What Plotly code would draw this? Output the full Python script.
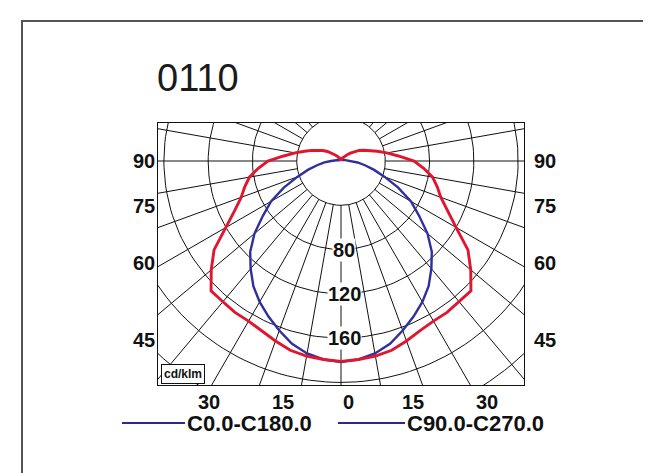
#!/usr/bin/env python3
# -*- coding: utf-8 -*-

"""
Polar luminous intensity diagram (cd/klm) of luminaire 0110,
C0-C180 and C90-C270 planes, drawn on a clipped cartesian frame.
"""

import numpy as np
import plotly.graph_objs as go

# gamma angles (deg from nadir), one half of each plane, symmetric luminaire
gamma = [0, 5, 10, 15, 20, 25, 30, 35, 40, 45, 50, 55, 60, 65, 70, 75, 80,
         85, 90, 95, 100, 105, 110, 115, 120, 125, 130, 135, 140, 145, 150,
         155, 160, 165, 170, 175, 180]

# C0.0-C180.0 (cd/klm)
c0_c180 = [181.6, 180, 176.5, 171, 163, 155, 147, 138, 127, 116, 102, 86,
           73, 57, 42, 31, 22, 15, 9, 6, 4, 3, 3, 2, 2, 2, 2, 2, 2, 2, 2,
           2, 2, 2, 2, 2, 2]

# C90.0-C270.0 (cd/klm)
c90_c270 = [181, 180, 179, 177, 173, 169, 167, 167, 166, 166, 153, 140,
            120, 106, 96, 90, 84, 75, 66, 52, 42, 34, 28, 23, 19, 15, 11,
            8, 6, 5, 4, 3, 2, 1, 1, 0, 0]

ring_values = [40, 80, 120, 160, 200, 240, 280]
ring_labels = [80, 120, 160]
spoke_angles = list(range(0, 360, 10))
side_angles = [90, 75, 60, 45]
bottom_angles = [-30, -15, 0, 15, 30]

plane_names = ['C0.0-C180.0', 'C90.0-C270.0']
title_text = '0110'
unit_text = 'cd/klm'

# page geometry (px, as seen in the window)
FIG_W, FIG_H = 651, 473
BODY = 8  # default body margin of the html page
L, R, T, B = 158, 524, 123, 385
CX, CY = 341, 161
K = 1.107  # px per cd/klm

FONT = 'Liberation Sans, Arial, Helvetica, sans-serif'
BLUE = '#2f2f9e'
RED = '#e0162f'


def px_x(p):
    return (p - L) / (R - L)


def px_y(p):
    return (B - p) / (B - T)


def to_xy(angles_deg, values):
    a = np.radians(np.asarray(angles_deg, dtype=float))
    v = np.asarray(values, dtype=float)
    return v * np.sin(a), -v * np.cos(a)


def full_plane(values):
    # left half (C180/C270) mirrored from right half (C0/C90)
    ang = [-g for g in gamma[::-1]] + gamma[1:]
    val = list(values[::-1]) + list(values[1:])
    return to_xy(ang, val)


def main():
    x_lim = (R - CX) / K
    y_top = (CY - T) / K
    y_bot = (CY - B) / K

    fig = go.Figure()

    # rings
    circ = np.arange(0, 361, 2)
    for r in ring_values:
        x, y = to_xy(circ, [r] * len(circ))
        fig.add_trace(go.Scatter(x=x, y=y, mode='lines', showlegend=False,
                                 hoverinfo='skip',
                                 line=dict(color='#111111', width=1)))

    # spokes from first ring outwards
    sx, sy = [], []
    for a in spoke_angles:
        x, y = to_xy([a, a], [ring_values[0], 330])
        sx += list(x) + [None]
        sy += list(y) + [None]
    fig.add_trace(go.Scatter(x=sx, y=sy, mode='lines', showlegend=False,
                             hoverinfo='skip',
                             line=dict(color='#111111', width=1)))

    bx, by = full_plane(c0_c180)
    fig.add_trace(go.Scatter(x=bx, y=by, mode='lines', name=plane_names[0],
                             showlegend=False,
                             line=dict(color=BLUE, width=2.4)))
    rx, ry = full_plane(c90_c270)
    fig.add_trace(go.Scatter(x=rx, y=ry, mode='lines', name=plane_names[1],
                             showlegend=False,
                             line=dict(color=RED, width=2.9)))

    ann = []
    lab_font = dict(family=FONT, size=20, color='#111111', weight='bold')

    for r in ring_labels:
        ann.append(dict(x=0, y=-r, xref='x', yref='y', text=str(r),
                        showarrow=False, font=lab_font, xshift=3,
                        bgcolor='white', borderpad=0))

    for g in side_angles:
        yy = 0 if g == 90 else -x_lim / np.tan(np.radians(g))
        ys = 0 if g == 90 else 4
        ann.append(dict(x=-x_lim, y=yy, xref='x', yref='y', text=str(g),
                        showarrow=False, font=lab_font, xanchor='right',
                        xshift=-1, yshift=ys))
        ann.append(dict(x=x_lim, y=yy, xref='x', yref='y', text=str(g),
                        showarrow=False, font=lab_font, xanchor='left',
                        xshift=8, yshift=ys))

    # bottom angle labels sit on the spokes, below the frame
    label_y = 402
    depth = (label_y - CY) / K
    for g in bottom_angles:
        ann.append(dict(x=depth * np.tan(np.radians(g)), y=px_y(label_y),
                        xref='x', yref='paper', text=str(abs(g)),
                        showarrow=False, font=lab_font, xshift=7,
                        xanchor='center', yanchor='middle'))

    ann.append(dict(x=px_x(161), y=px_y(384), xref='paper', yref='paper',
                    text=unit_text, showarrow=False, xanchor='left',
                    yanchor='bottom', bgcolor='white', bordercolor='#111111',
                    borderwidth=1, borderpad=2,
                    font=dict(family=FONT, size=12, color='#111111',
                              weight='bold')))

    ann.append(dict(x=px_x(155), y=px_y(78), xref='paper', yref='paper',
                    text=title_text, showarrow=False, xanchor='left',
                    yanchor='middle',
                    font=dict(family=FONT, size=38, color='#1a1a1a')))

    # legend, drawn by hand (both keys are navy in the original)
    shapes = []
    leg_y = px_y(423)
    for (x0, x1), name in zip([(122, 185), (338, 405)], plane_names):
        shapes.append(dict(type='line', xref='paper', yref='paper',
                           x0=px_x(x0), x1=px_x(x1), y0=leg_y, y1=leg_y,
                           line=dict(color='#2a2a8c', width=2)))
        ann.append(dict(x=px_x(x1), y=leg_y, xref='paper', yref='paper',
                        text=name, showarrow=False, xanchor='left',
                        yanchor='middle',
                        font=dict(family=FONT, size=22, color='#111111',
                                  weight='bold')))

    # outer border, open to the right and bottom
    shapes.append(dict(type='rect', xref='paper', yref='paper',
                       x0=px_x(22), y0=px_y(21), x1=px_x(720), y1=px_y(520),
                       line=dict(color='#555555', width=2)))

    fig.update_layout(
        width=FIG_W, height=FIG_H,
        margin=dict(l=L - BODY, r=FIG_W - R + BODY, t=T - BODY,
                    b=FIG_H - B + BODY, pad=0),
        paper_bgcolor='white', plot_bgcolor='white',
        annotations=ann, shapes=shapes, showlegend=False,
    )
    axis_style = dict(showgrid=False, zeroline=False, showticklabels=False,
                      ticks='', showline=True, mirror=True,
                      linecolor='#111111', linewidth=1)
    fig.update_xaxes(range=[-x_lim, x_lim], **axis_style)
    fig.update_yaxes(range=[y_bot, y_top], **axis_style)

    fig.write_html('out.html')


if __name__ == '__main__':
    main()
